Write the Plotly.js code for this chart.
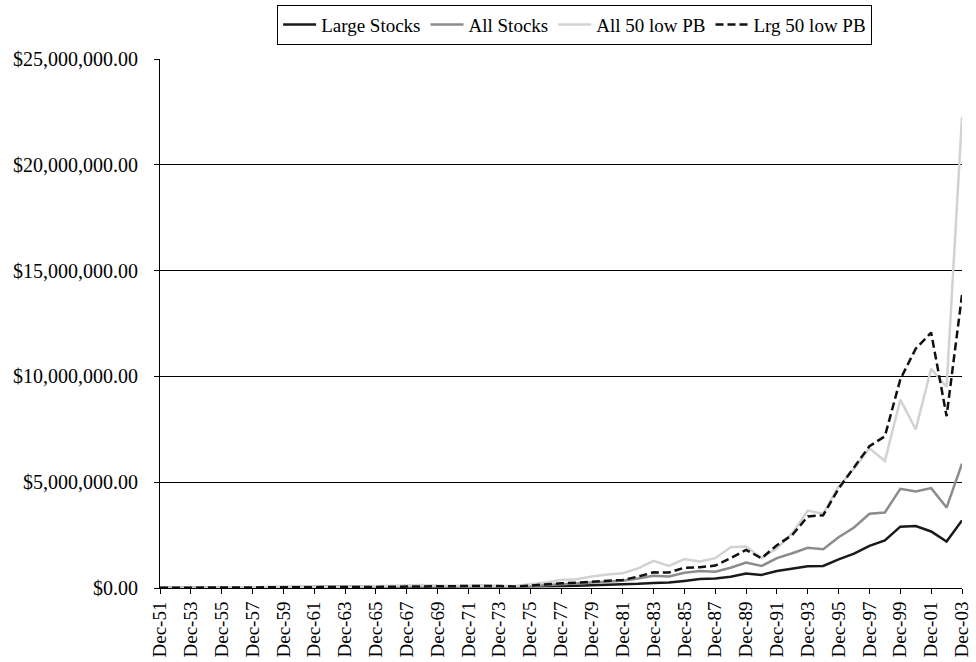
<!DOCTYPE html>
<html>
<head>
<meta charset="utf-8">
<script src="https://cdn.plot.ly/plotly-3.0.1.min.js"></script>
<style>
html,body{margin:0;padding:0;background:#fff;}
#chart{width:976px;height:662px;}
</style>
</head>
<body>
<div id="chart"></div>
<script>
const categories = ["Dec-51","Dec-52","Dec-53","Dec-54","Dec-55","Dec-56","Dec-57","Dec-58","Dec-59","Dec-60",
"Dec-61","Dec-62","Dec-63","Dec-64","Dec-65","Dec-66","Dec-67","Dec-68","Dec-69","Dec-70",
"Dec-71","Dec-72","Dec-73","Dec-74","Dec-75","Dec-76","Dec-77","Dec-78","Dec-79","Dec-80",
"Dec-81","Dec-82","Dec-83","Dec-84","Dec-85","Dec-86","Dec-87","Dec-88","Dec-89","Dec-90",
"Dec-91","Dec-92","Dec-93","Dec-94","Dec-95","Dec-96","Dec-97","Dec-98","Dec-99","Dec-00",
"Dec-01","Dec-02","Dec-03"];

const largeStocks = [10000,11800,11700,17000,22000,23500,21500,30000,33500,34000,
42000,39000,47000,54000,60000,55000,67000,75000,69000,71000,
81000,95000,82000,62000,85000,105000,100000,108000,128000,165000,
158000,195000,240000,255000,330000,420000,450000,530000,680000,620000,
800000,900000,1030000,1040000,1350000,1620000,1990000,2250000,2900000,2930000,
2670000,2200000,3190000];

const allStocks = [10000,11300,11000,16500,20000,21500,19500,29000,33000,33000,
41000,36000,43000,50000,60000,57000,80000,98000,82000,78000,
90000,97000,76000,57000,95000,140000,190000,220000,280000,320000,
340000,450000,580000,540000,720000,800000,770000,960000,1200000,1040000,
1410000,1640000,1900000,1830000,2400000,2860000,3510000,3570000,4690000,4560000,
4720000,3800000,5870000];

const all50LowPB = [10000,11500,11000,18000,22000,24000,21000,33000,38000,37000,
48000,43000,55000,65000,82000,78000,110000,140000,115000,115000,
130000,135000,110000,95000,160000,260000,380000,410000,540000,640000,
700000,930000,1280000,1040000,1370000,1250000,1410000,1930000,1960000,1410000,
1880000,2590000,3660000,3510000,4800000,5650000,6600000,6000000,8900000,7500000,
10360000,9500000,22260000];

const lrg50LowPB = [10000,11500,11500,17500,21000,22500,20000,29000,32000,31000,
40000,37000,45000,53000,60000,55000,68000,80000,72000,78000,
88000,100000,92000,75000,115000,180000,220000,250000,300000,330000,
380000,540000,740000,730000,960000,980000,1060000,1410000,1800000,1410000,
2020000,2510000,3380000,3440000,4700000,5700000,6700000,7170000,9860000,11310000,
12070000,8120000,13850000];

const seriesNames = ["Large Stocks","All Stocks","All 50 low PB","Lrg 50 low PB"];
const tickLabels = categories.filter((c, i) => i % 2 === 0);

const FONT = "Liberation Serif, Times New Roman, serif";

const traces = [
  {x: categories, y: largeStocks, name: seriesNames[0], type: "scatter", mode: "lines",
   line: {color: "#1a1a1a", width: 2.5}},
  {x: categories, y: allStocks, name: seriesNames[1], type: "scatter", mode: "lines",
   line: {color: "#8c8c8c", width: 2.5}},
  {x: categories, y: all50LowPB, name: seriesNames[2], type: "scatter", mode: "lines",
   line: {color: "#d2d2d2", width: 2.5}},
  {x: categories, y: lrg50LowPB, name: seriesNames[3], type: "scatter", mode: "lines",
   line: {color: "#111111", width: 2.5, dash: "8px,4px"}}
];

const layout = {
  width: 976, height: 662,
  margin: {l: 160, r: 14, t: 59, b: 74, pad: 0, autoexpand: false},
  paper_bgcolor: "#ffffff", plot_bgcolor: "#ffffff",
  font: {family: FONT, size: 19, color: "#000"},
  showlegend: true,
  legend: {
    orientation: "h", xref: "paper", x: 0.517, xanchor: "center",
    yref: "container", y: 0.993, yanchor: "top",
    bordercolor: "#000", borderwidth: 1, bgcolor: "#fff",
    font: {family: FONT, size: 19, color: "#000"},
    itemwidth: 33, tracegroupgap: 0
  },
  xaxis: {
    type: "category", range: [0, categories.length - 1],
    tickmode: "array", tickvals: tickLabels, ticktext: tickLabels,
    tickangle: -90, ticks: "outside", ticklen: 5, tickwidth: 1, tickcolor: "#000",
    showline: true, linecolor: "#000", linewidth: 1,
    showgrid: false, zeroline: false, automargin: false,
    tickfont: {family: FONT, size: 19, color: "#000"}
  },
  yaxis: {
    range: [0, 25000000], dtick: 5000000, tick0: 0,
    tickformat: "$,.2f",
    ticks: "outside", ticklen: 5, tickwidth: 1, tickcolor: "#000",
    ticklabelstandoff: 12,
    showline: true, linecolor: "#000", linewidth: 1,
    showgrid: true, gridcolor: "#000", gridwidth: 1,
    zeroline: false, automargin: false,
    tickfont: {family: FONT, size: 20, color: "#000"}
  }
};

Plotly.newPlot("chart", traces, layout, {displayModeBar: false, staticPlot: true});
</script>
</body>
</html>
